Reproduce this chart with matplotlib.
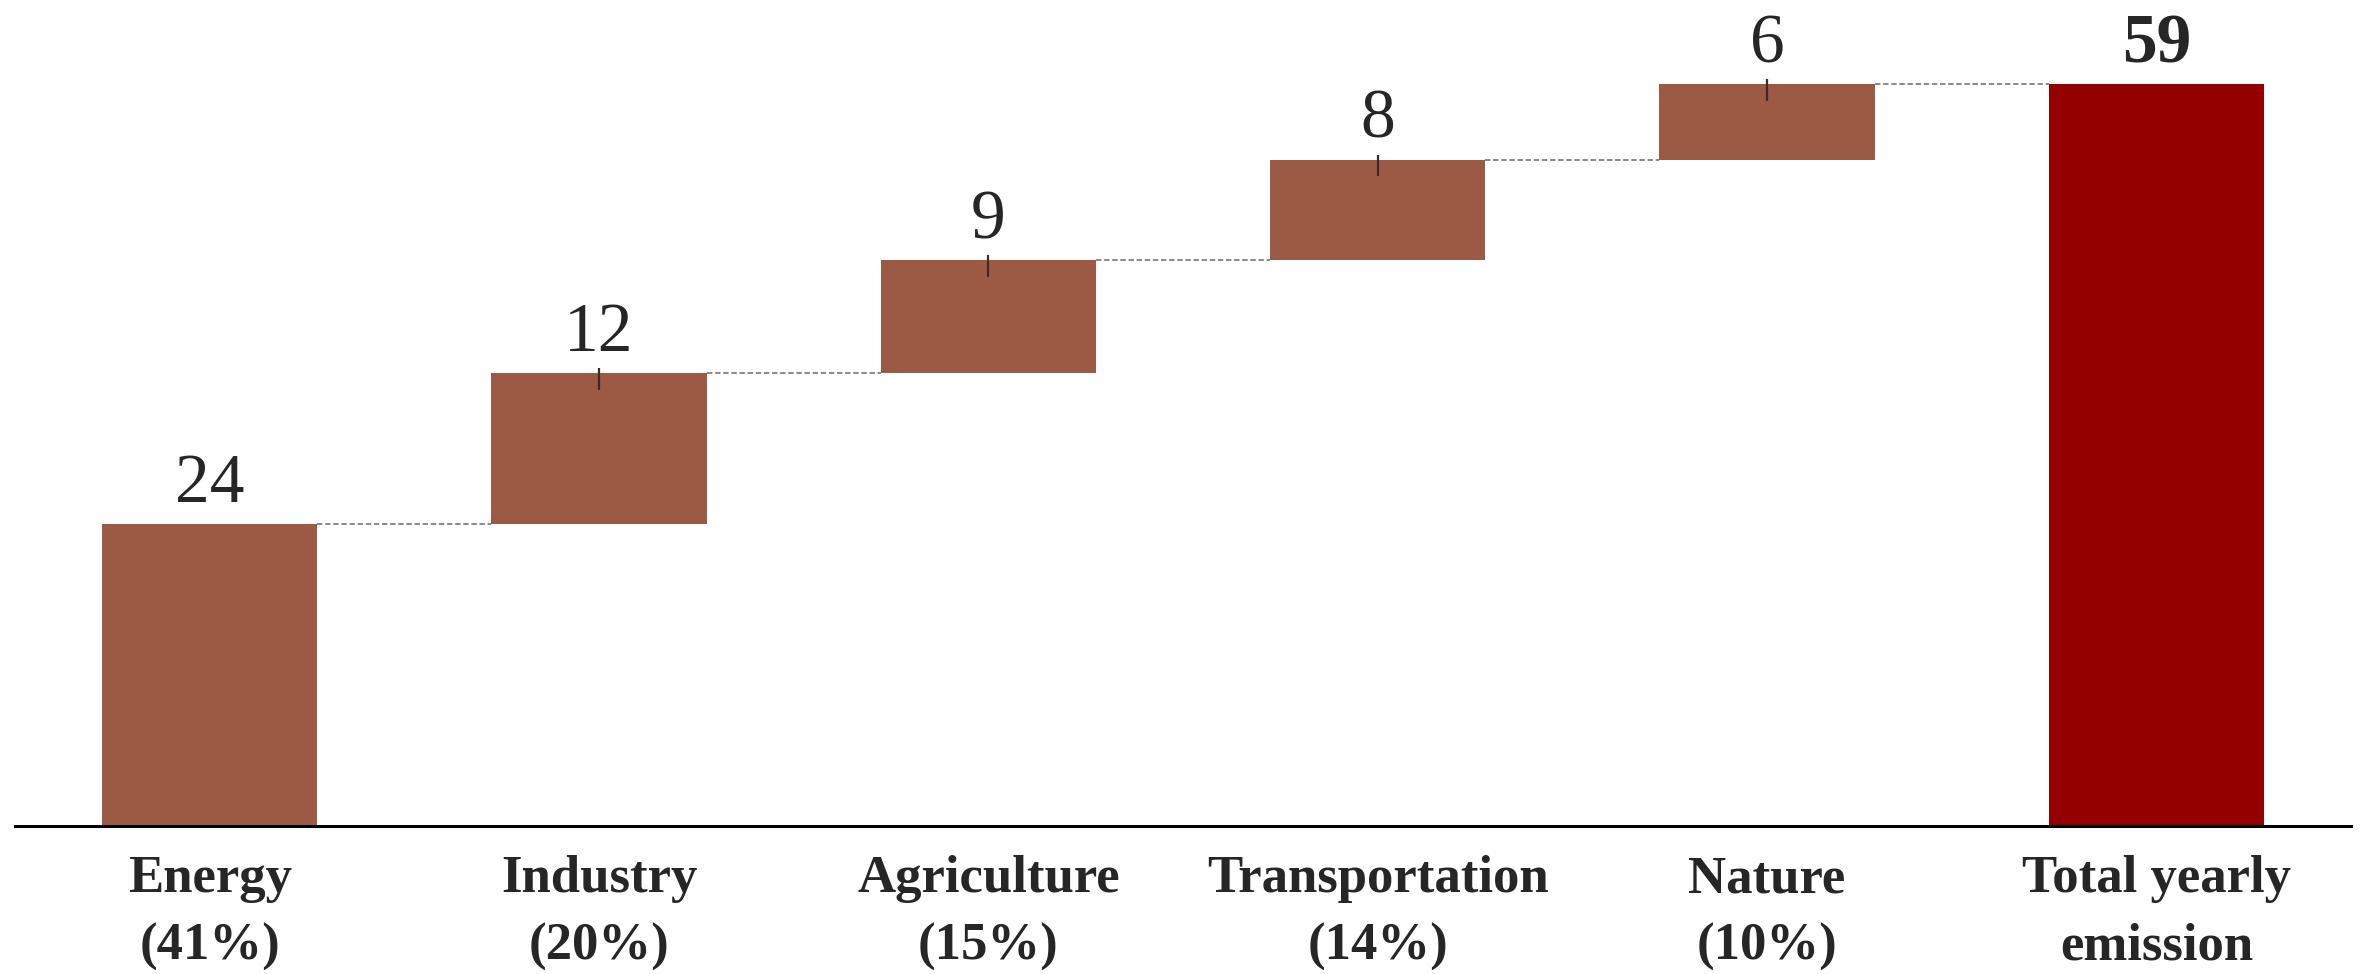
import matplotlib
matplotlib.use("Agg")
import matplotlib.pyplot as plt
import numpy as np

# Sector contributions to yearly emissions (waterfall)
sectors = ["Energy", "Industry", "Agriculture", "Transportation", "Nature"]
shares = ["(41%)", "(20%)", "(15%)", "(14%)", "(10%)"]
values = [24, 12, 9, 8, 6]
total_label = "Total yearly\nemission"
total_value = 59
# small uncertainty whiskers drawn at the top of each step (below, above)
whisker_low = [0.0, 1.3, 1.3, 1.3, 1.3]
whisker_high = [0.0, 0.4, 0.4, 0.4, 0.4]

step_color = "#9c5a44"
total_color = "#940000"
text_color = "#262626"

plt.rcParams["font.family"] = ["Liberation Serif", "DejaVu Serif"]

fig = plt.figure(figsize=(23.63, 9.74), dpi=100)
ax = fig.add_axes([15 / 2363, 1 - 826 / 974, (2351 - 15) / 2363, 826 / 974])

n = len(values)
x = np.arange(n + 1)
cum = np.cumsum(values)
bottoms = np.concatenate([[0], cum[:-1]])
width = 0.553

ax.bar(x[:n], values, bottom=bottoms, width=width, color=step_color, zorder=2)
ax.bar(x[n], total_value, width=width, color=total_color, zorder=2)

# whiskers only on the stacked steps
ax.errorbar(x[1:n], cum[1:], yerr=[whisker_low[1:], whisker_high[1:]],
            fmt="none", ecolor="#3b2b27", elinewidth=1.6, capsize=0, zorder=3)

# dashed connectors between consecutive bars
levels = list(cum)
for i in range(n):
    ax.plot([x[i] + width / 2, x[i + 1] - width / 2], [levels[i], levels[i]],
            ls=(0, (3, 1.5)), color="#808080", lw=1.3, zorder=1)

# value labels
for xi, v, top in zip(x[:n], values, cum):
    ax.text(xi, top + 1.75, f"{v}", ha="center", va="baseline",
            fontsize=50, color=text_color)
ax.text(x[n], total_value + 1.75, f"{total_value}", ha="center", va="baseline",
        fontsize=50, fontweight="bold", color=text_color)

ax.set_xlim(-0.5, n + 0.5)
ax.set_ylim(0, 65.7)

ax.set_xticks(x)
ax.set_xticklabels([f"{s}\n{p}" for s, p in zip(sectors, shares)] + [total_label],
                   fontsize=38, fontweight="bold", color=text_color, linespacing=1.52)
ax.tick_params(axis="x", length=0, pad=21)
ax.set_yticks([])

for side in ["top", "right", "left"]:
    ax.spines[side].set_visible(False)
ax.spines["bottom"].set_linewidth(2.2)
ax.spines["bottom"].set_color("black")
ax.spines["bottom"].set_zorder(4)

fig.savefig("out.png", dpi=100, facecolor="white")
